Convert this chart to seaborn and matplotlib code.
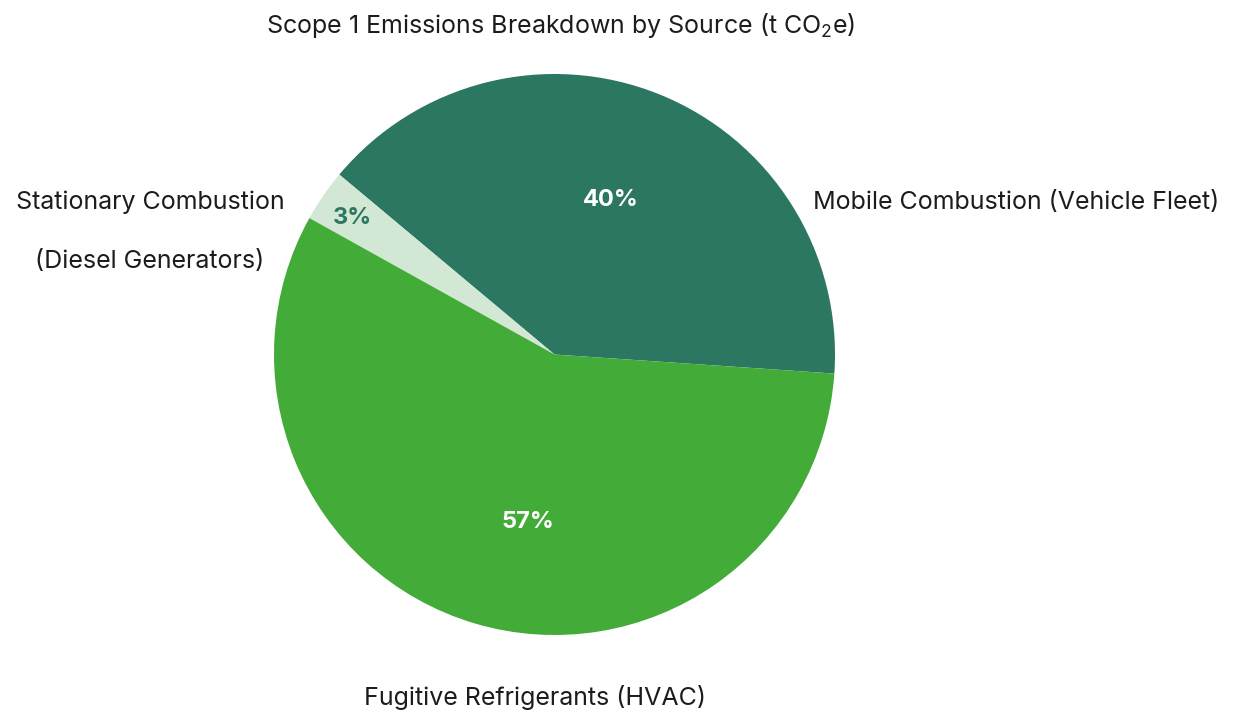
import numpy as np
import matplotlib
matplotlib.use("Agg")
import matplotlib.pyplot as plt
import seaborn as sns

# Scope 1 emission sources (share of total, %)
sources = ["Mobile Combustion (Vehicle Fleet)",
           "Stationary Combustion\n(Diesel Generators)",
           "Fugitive Refrigerants (HVAC)"]
shares = [40, 3, 57]
colors = ["#2b7762", "#d2e7d4", "#43ab37"]
pct_colors = ["white", "#2b7762", "white"]
title = "Scope 1 Emissions Breakdown by Source (t CO$_2$e)"

sns.set_theme(style="white")
plt.rcParams["font.family"] = ["Inter", "DejaVu Sans"]
plt.rcParams["mathtext.fontset"] = "custom"
plt.rcParams["mathtext.rm"] = "Inter"
plt.rcParams["mathtext.it"] = "Inter"

W, H = 1245, 717
fig = plt.figure(figsize=(W / 100, H / 100), dpi=100)
ax = fig.add_axes([0, 0, 1, 1])

cx, cy, R = 554.5, 362.5, 280.5
wedges, _ = ax.pie(shares, colors=colors, startangle=-3.9, counterclock=True,
                   center=(cx, cy), radius=R,
                   wedgeprops=dict(linewidth=0))
ax.set_xlim(0, W)
ax.set_ylim(0, H)
ax.set_aspect("equal")
ax.axis("off")

# percentage labels (angle offset from wedge middle, radial fraction)
pct_place = [(1.8, 0.587), (0.5, 0.87), (7.5, 0.605)]
total = sum(shares)
for w, v, c, (dang, frac) in zip(wedges, shares, pct_colors, pct_place):
    mid = np.deg2rad((w.theta1 + w.theta2) / 2 + dang)
    ax.text(cx + R * frac * np.cos(mid), cy + R * frac * np.sin(mid),
            f"{v / total * 100:.0f}%", color=c, fontsize=17, fontweight="bold",
            ha="center", va="center")

# category labels
fs = 18
ink = "#1c1c1c"
ax.text(813, 515, sources[0], fontsize=fs, color=ink, ha="left", va="center")
ax.text(150, 485.5, sources[1], fontsize=fs, color=ink, ha="center",
        va="center", linespacing=3.0, multialignment="center")
ax.text(535, 19, sources[2], fontsize=fs, color=ink, ha="center", va="center")

ax.text(561, 692, title, fontsize=fs, color=ink, ha="center", va="center")

fig.savefig("out.png", dpi=100)
